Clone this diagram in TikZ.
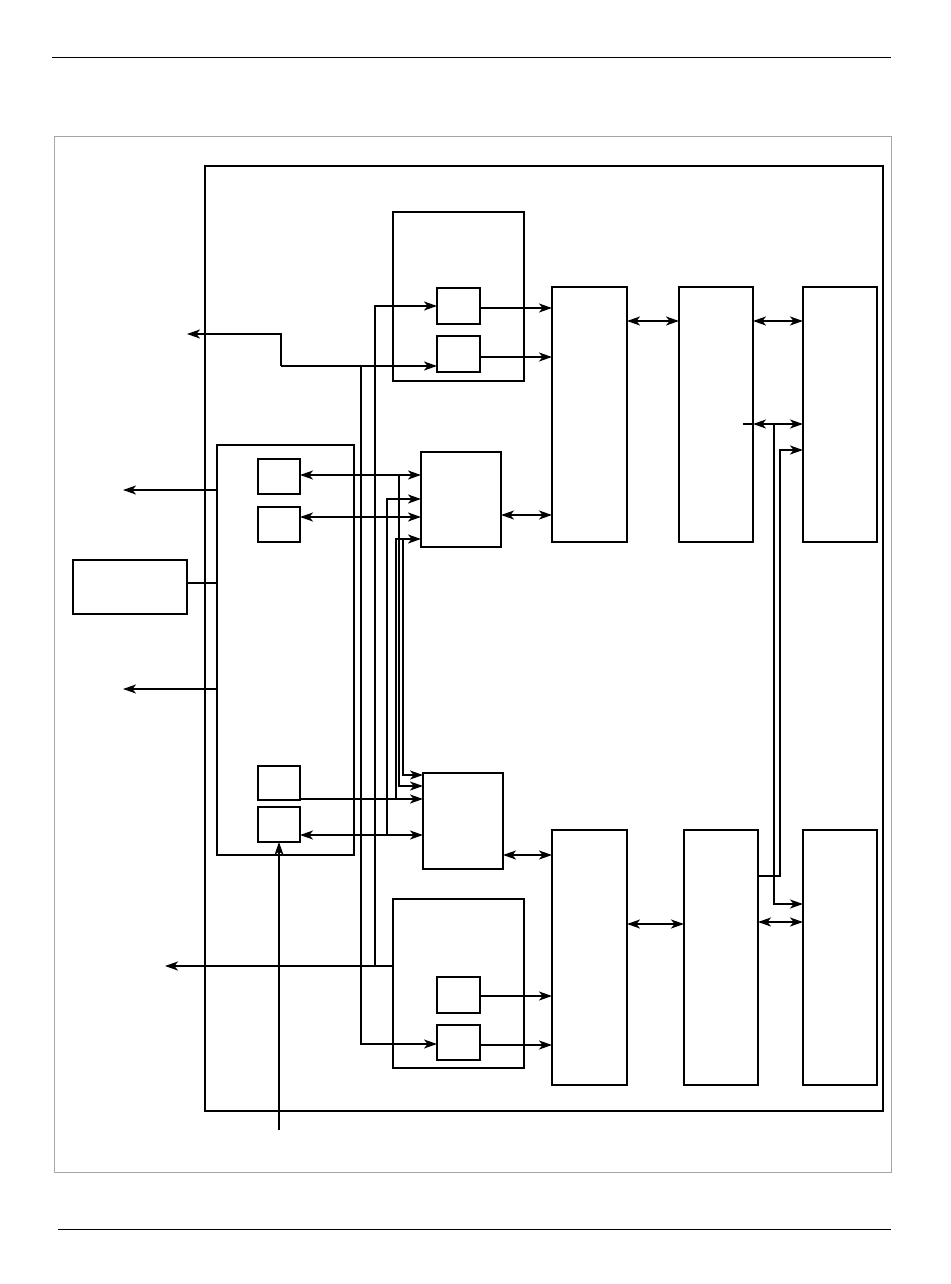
\documentclass[tikz,border=0pt]{standalone}
\usetikzlibrary{arrows.meta}
\tikzset{
  tipA/.tip={Stealth[length=13pt,width=9pt,inset=3.5pt]},
  box/.style={draw, line width=1.8pt, anchor=north west, inner sep=0pt, outer sep=0pt},
  conn/.style={line width=1.5pt},
  arr/.style={conn, -tipA},
  darr/.style={conn, tipA-tipA},
  rulelink/.style={line width=1pt},
  framebox/.style={draw=black!35, line width=1pt, anchor=north west, inner sep=0pt, outer sep=0pt}
}
\newcommand\bx[6][box]{\node[#1, minimum width=#5pt, minimum height=#6pt] (#2) at (#3,#4) {};}
\begin{document}
\begin{tikzpicture}[x=1pt,y=-1pt]
\useasboundingbox (0,0) rectangle (950,1284);
% page rules and frames
\coordinate (r1a) at (52,58); \coordinate (r1b) at (891,58);
\coordinate (r2a) at (58,1229); \coordinate (r2b) at (891,1229);
\draw[rulelink] (r1a) -- (r1b);
\draw[rulelink] (r2a) -- (r2b);
\bx[framebox]{outer}{54}{137}{837}{1035}
\bx{inner}{205}{166}{678}{945}
% left side
\bx{ext}{73}{560}{114}{54}
\bx{lb}{217}{445}{137}{410}
\bx{ls1}{258}{459}{42}{35}
\bx{ls2}{258}{507}{42}{35}
\bx{ls3}{258}{766}{42}{34}
\bx{ls4}{258}{807}{42}{35}
% top and bottom groups
\bx{tb}{393}{212}{131}{169}
\bx{ts1}{437}{288}{43}{36}
\bx{ts2}{437}{336}{43}{36}
\bx{bb}{393}{899}{131}{169}
\bx{bs1}{437}{977}{43}{36}
\bx{bs2}{437}{1025}{43}{35}
% middle boxes
\bx{um}{421}{452}{80}{95}
\bx{lm}{423}{773}{80}{96}
% columns
\bx{c1}{552}{287}{75}{255}
\bx{c2}{679}{287}{74}{255}
\bx{c3}{803}{287}{74}{255}
\bx{c4}{552}{830}{75}{255}
\bx{c5}{684}{830}{74}{255}
\bx{c6}{803}{830}{74}{255}
% free ends
\coordinate (oA) at (187,334);
\coordinate (o1) at (123,490);
\coordinate (o2) at (123,689);
\coordinate (o3) at (165,966);
\coordinate (in1) at (279,1130);
% junctions
\coordinate (j1) at (281,366);
\coordinate (j2) at (361,366);
\coordinate (j3) at (375,966);
\coordinate (j4) at (387,835);
\coordinate (j5) at (396,799);
\coordinate (j6) at (399,475);
\coordinate (j7) at (403,539);
\coordinate (j8) at (743,424);
\coordinate (j9) at (774,424);
% top-left links
\draw[arr] (j1) -- (j1 -| ts2.west);
\draw[arr] (j1) |- (oA);
\draw[arr, line width=1.2pt] (j2) |- (bs2.west |- 0,1044);
\draw[arr] (j3) |- (ts1.west);
\draw[arr] (bb.west |- o3) -- (o3);
% left box links
\draw[arr] (lb.west |- o1) -- (o1);
\draw[arr] (lb.west |- o2) -- (o2);
\draw[conn] (ext.east |- 0,583) -- (lb.west |- 0,583);
\draw[arr] (in1) -- (ls4.south);
% to upper middle box
\draw[darr] (ls1.east |- j6) -- (um.west |- j6);
\draw[darr] (ls2.east |- 0,517) -- (um.west |- 0,517);
\draw[arr] (j4) -- (j4 |- 0,499) -- (um.west |- 0,499);
\draw[arr] (j5) -- (j5 |- j7) -- (um.west |- j7);
% to lower middle box
\draw[arr] (ls3.east |- j5) -- (lm.west |- j5);
\draw[darr] (ls4.east |- j4) -- (lm.west |- j4);
\draw[arr] (j6) |- (lm.west |- 0,786);
\draw[arr] (j7) |- (lm.west |- 0,775);
% middle boxes to columns
\draw[darr] (um.east |- 0,515) -- (c1.west |- 0,515);
\draw[darr] (lm.east |- 0,855) -- (c4.west |- 0,855);
% group boxes to columns
\draw[arr] (ts1.east |- 0,308) -- (c1.west |- 0,308);
\draw[arr] (ts2.east |- 0,357) -- (c1.west |- 0,357);
\draw[arr] (bs1.east |- 0,996) -- (c4.west |- 0,996);
\draw[arr] (bs2.east |- 0,1045) -- (c4.west |- 0,1045);
% between columns
\draw[darr] (c1.east |- 0,321) -- (c2.west |- 0,321);
\draw[darr] (c2.east |- 0,321) -- (c3.west |- 0,321);
\draw[darr] (c4.east |- 0,924) -- (c5.west |- 0,924);
\draw[darr] (c5.east |- 0,922) -- (c6.west |- 0,922);
\draw[conn] (j8) -- (c2.east |- j8);
\draw[darr] (c2.east |- j8) -- (c3.west |- j8);
\draw[arr] (c5.east |- 0,876) -- (780,876) -- (780,450) -- (c3.west |- 0,450);
\draw[arr] (j9) -- (j9 |- 0,904) -- (c6.west |- 0,904);
\end{tikzpicture}
\end{document}
